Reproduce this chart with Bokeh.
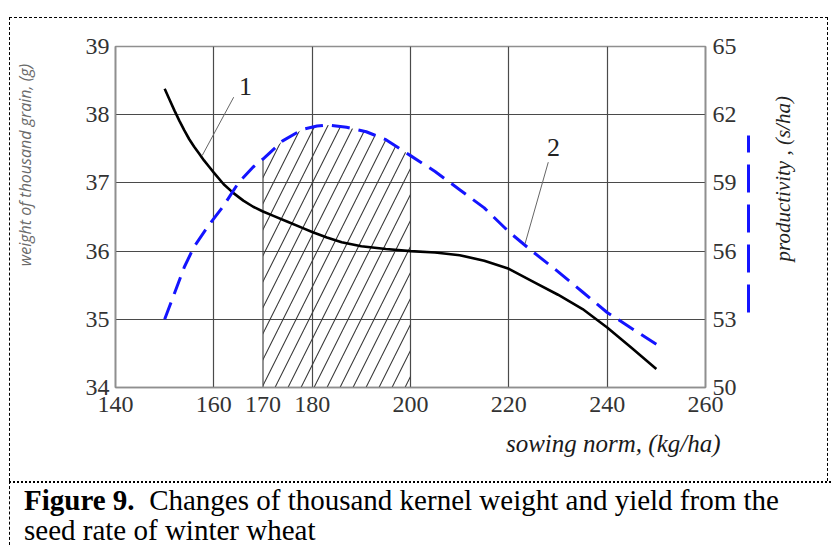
import math
from bokeh.plotting import figure
from bokeh.models import Range1d, LinearAxis, FixedTicker, Label, Div, Spacer, Title
from bokeh.layouts import column, row
from bokeh.embed import file_html
from bokeh.resources import INLINE

# ---------------- data ----------------
sowing_weight = [150, 151, 152, 153, 154, 155, 156, 157, 158, 159, 160, 162, 164, 166, 168,
                 170, 172, 175, 178, 180, 183, 186, 190, 195, 200, 205, 210, 215, 220, 225,
                 230, 235, 240, 245, 250]
weight = [38.38, 38.22, 38.06, 37.91, 37.77, 37.64, 37.53, 37.43, 37.33, 37.24, 37.15,
          36.98, 36.85, 36.74, 36.65, 36.58, 36.52, 36.43, 36.34, 36.28, 36.2, 36.13,
          36.07, 36.03, 36.0, 35.98, 35.94, 35.86, 35.74, 35.55, 35.36, 35.15, 34.88,
          34.58, 34.27]
sowing_prod = [150, 152, 154, 156, 159, 162, 165, 168, 170, 174, 178, 181, 183, 187,
               191, 195, 200, 205, 210, 215, 220, 225, 230, 235, 240, 245, 250]
productivity = [53.0, 54.15, 55.3, 56.2, 57.15, 58.0, 59.0, 59.7, 60.05, 60.85, 61.35,
                61.5, 61.55, 61.45, 61.25, 60.9, 60.2, 59.5, 58.7, 57.9, 56.85, 55.95,
                55.1, 54.2, 53.3, 52.6, 51.9]
x_ticks = [140, 160, 170, 180, 200, 220, 240, 260]
x_grid = [160, 180, 200, 220, 240]
weight_ticks = [34, 35, 36, 37, 38, 39]
prod_ticks = [50, 53, 56, 59, 62, 65]
optimum = [170, 200]
legend_span = [53.3, 61.1]   # extent of the curve-2 key mark on the right (productivity units)

X0, X1 = 140, 260
W0, W1 = 34, 39
P0, P1 = 50, 65

# ---------------- layout (page px) ----------------
OX, OY = 10, 18                  # canvas origin on the page
FL, FR, FT, FB = 111, 705, 46, 387
PW, PH = 819, 464
NB = "\u00a0"


def X(px):
    return X0 + (px - FL) * (X1 - X0) / (FR - FL)


def Y(py):
    return W1 - (py - FT) * (W1 - W0) / (FB - FT)


def p2w(v):
    return W0 + (v - P0) * (W1 - W0) / (P1 - P0)


p = figure(width=PW, height=PH, output_backend="svg", toolbar_location=None,
           x_range=Range1d(X0, X1), y_range=Range1d(W0, W1))
p.min_border = 0
p.min_border_left = FL - OX
p.min_border_right = PW - (FR - OX)
p.min_border_top = FT - OY
p.min_border_bottom = PH - (FB - OY)
p.background_fill_color = "white"
p.border_fill_color = "white"
p.outline_line_color = "#8f8f8f"
p.outline_line_width = 1.6
p.styles = {"border-top": "1.4px dashed #000", "border-left": "1.4px dashed #000",
            "border-right": "1.4px dashed #000"}

p.extra_y_ranges = {"prod": Range1d(P0, P1)}

TF = "Liberation Serif"


def style_axis(ax, standoff):
    ax.major_tick_line_color = None
    ax.minor_tick_line_color = None
    ax.major_tick_out = 0
    ax.major_tick_in = 0
    ax.minor_tick_out = 0
    ax.minor_tick_in = 0
    ax.axis_line_color = "#8f8f8f"
    ax.axis_line_width = 1.6
    ax.major_label_text_font = TF
    ax.major_label_text_font_size = "24px"
    ax.major_label_text_color = "#333333"
    ax.major_label_standoff = standoff


xa = p.xaxis[0]
style_axis(xa, 9)
xa.ticker = FixedTicker(ticks=x_ticks)

ya = p.yaxis[0]
style_axis(ya, 6)
ya.ticker = FixedTicker(ticks=weight_ticks)
ya.axis_label = NB * 25 + "weight of thousand grain, (g)"
ya.axis_label_standoff = 47
ya.axis_label_text_font = "Open Sans"
ya.axis_label_text_font_style = "italic"
ya.axis_label_text_font_size = "16px"
ya.axis_label_text_color = "#6a6a6a"

ra = LinearAxis(y_range_name="prod", ticker=FixedTicker(ticks=prod_ticks))
style_axis(ra, 7)
ra.axis_label = NB
ra.axis_label_text_font_size = "6px"
ra.axis_label_standoff = 0
p.add_layout(ra, "right")

# key mark of curve 2 + right title (reads bottom to top)
ka = LinearAxis(y_range_name="prod", ticker=FixedTicker(ticks=[]), bounds=tuple(legend_span))
ka.major_tick_out = 0
ka.major_tick_in = 0
ka.minor_tick_out = 0
ka.minor_tick_in = 0
ka.axis_line_color = "#1414ff"
ka.axis_line_width = 3
ka.axis_line_dash = "28 12"
ka.axis_label = NB * 24 + "productivity , (s/ha)"
ka.axis_label_orientation = math.pi / 2
ka.axis_label_align = "start"
ka.axis_label_standoff = 34
ka.axis_label_text_font = TF
ka.axis_label_text_font_style = "italic"
ka.axis_label_text_font_size = "21px"
ka.axis_label_text_color = "#222222"
p.add_layout(ka, "right")

# x-axis title, right-aligned under the axis
p.add_layout(Title(text="sowing norm, (kg/ha)", align="right", offset=-15, standoff=27,
                   text_font=TF, text_font_style="italic", text_font_size="25px",
                   text_color="#1a1a1a"), "below")

p.xgrid.ticker = FixedTicker(ticks=x_grid)
p.ygrid.ticker = FixedTicker(ticks=weight_ticks[1:-1])
for g in (p.xgrid[0], p.ygrid[0]):
    g.grid_line_color = "#4a4a4a"
    g.grid_line_width = 1.2

# hatched optimum zone under curve 2
hx = [x for x in sowing_prod if optimum[0] <= x <= optimum[1]]
htop = [p2w(v) for x, v in zip(sowing_prod, productivity) if optimum[0] <= x <= optimum[1]]
p.varea(x=hx, y1=[W0] * len(hx), y2=htop, fill_color=None, fill_alpha=0,
        hatch_pattern="/", hatch_scale=26, hatch_color="#3c3c3c", hatch_weight=1.1)
p.segment(x0=[optimum[0]], y0=[W0], x1=[optimum[0]], y1=[htop[0]],
          line_color="#4a4a4a", line_width=1.2)

# curves
p.line(sowing_weight, weight, line_color="black", line_width=2.6, line_join="round")
p.line(sowing_prod, productivity, y_range_name="prod", line_color="#1414ff",
       line_width=3, line_dash="18 9")

# curve labels with leaders
p.segment(x0=[X(230), X(546.7)], y0=[Y(96.7), Y(161.7)],
          x1=[X(198.3), X(523.3)], y1=[Y(155), Y(243.3)],
          line_color="#666666", line_width=1)
p.add_layout(Label(x=X(242), y=Y(86), text="1", text_font=TF,
                   text_font_size="26px", text_color="#222222",
                   text_align="center", text_baseline="middle"))
p.add_layout(Label(x=X(552), y=Y(147), text="2", text_font=TF,
                   text_font_size="26px", text_color="#222222",
                   text_align="center", text_baseline="middle"))

# caption
cap = Div(text="<b>Figure 9.</b>&nbsp; Changes of thousand kernel weight and yield from the"
               "<br>seed rate of winter wheat",
          width=PW + 3, height=64, margin=(0, 0, 0, 0),
          styles={"border-top": "2px dotted #000", "border-left": "1.4px dashed #000",
                  "font-family": "'Liberation Serif', 'Times New Roman', serif",
                  "font-size": "29px", "line-height": "30px", "color": "#000",
                  "padding-left": "14px", "padding-top": "2px",
                  "box-sizing": "border-box"})

root = column(Spacer(width=833, height=OY - 1),
              row(Spacer(width=OX - 1, height=PH + 66), column(p, cap)))

open("out.html", "w").write(file_html(root, INLINE))
